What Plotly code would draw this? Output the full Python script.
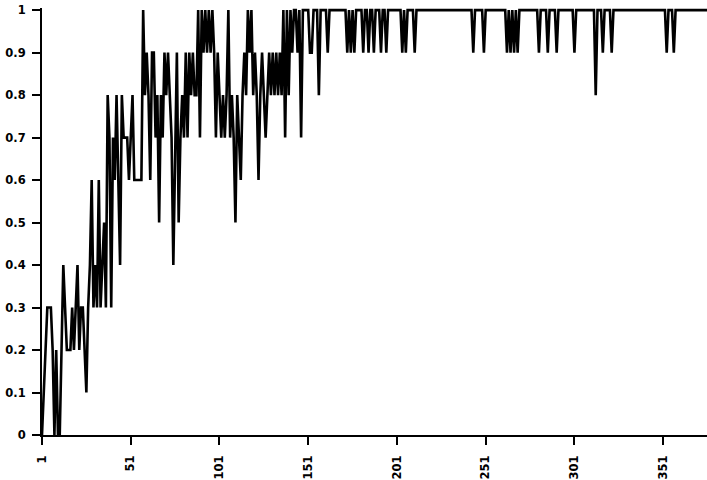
import plotly.graph_objects as go

# Proportion per trial (trials 1..376)
values = [
    0, 0.1, 0.2, 0.3, 0.3, 0.3, 0.2, 0, 0.2, 0,
    0, 0.2, 0.4, 0.3, 0.2, 0.2, 0.2, 0.3, 0.2, 0.3,
    0.4, 0.2, 0.3, 0.3, 0.2, 0.1, 0.3, 0.4, 0.6, 0.3,
    0.4, 0.3, 0.6, 0.3, 0.4, 0.5, 0.3, 0.8, 0.7, 0.3,
    0.7, 0.6, 0.8, 0.6, 0.4, 0.8, 0.7, 0.7, 0.7, 0.6,
    0.7, 0.8, 0.6, 0.6, 0.6, 0.6, 0.6, 1.0, 0.8, 0.9,
    0.8, 0.6, 0.9, 0.9, 0.7, 0.8, 0.5, 0.8, 0.7, 0.9,
    0.8, 0.9, 0.8, 0.7, 0.4, 0.7, 0.9, 0.5, 0.7, 0.8,
    0.7, 0.9, 0.7, 0.9, 0.8, 0.9, 0.8, 0.8, 1.0, 0.7,
    1.0, 0.9, 1.0, 0.9, 1.0, 0.9, 1.0, 0.9, 0.7, 0.9,
    0.8, 0.7, 0.8, 0.7, 0.8, 1.0, 0.7, 0.8, 0.7, 0.5,
    0.8, 0.7, 0.6, 0.8, 0.9, 0.8, 1.0, 0.9, 1.0, 0.8,
    0.9, 0.8, 0.6, 0.8, 0.9, 0.8, 0.7, 0.8, 0.9, 0.8,
    0.9, 0.8, 0.9, 0.8, 0.9, 0.8, 1.0, 0.7, 1.0, 0.8,
    1.0, 0.9, 1.0, 1.0, 0.9, 1.0, 0.7, 1.0, 1.0, 1.0,
    1.0, 0.9, 0.9, 1.0, 1.0, 1.0, 0.8, 1.0, 1.0, 1.0,
    1.0, 0.9, 1.0, 1.0, 1.0, 1.0, 1.0, 1.0, 1.0, 1.0,
    1.0, 1.0, 0.9, 1.0, 0.9, 1.0, 0.9, 1.0, 1.0, 1.0,
    1.0, 0.9, 1.0, 1.0, 0.9, 1.0, 1.0, 0.9, 1.0, 1.0,
    1.0, 0.9, 1.0, 1.0, 0.9, 1.0, 1.0, 1.0, 1.0, 1.0,
    1.0, 1.0, 1.0, 0.9, 1.0, 0.9, 1.0, 1.0, 1.0, 1.0,
    0.9, 1.0, 1.0, 1.0, 1.0, 1.0, 1.0, 1.0, 1.0, 1.0,
    1.0, 1.0, 1.0, 1.0, 1.0, 1.0, 1.0, 1.0, 1.0, 1.0,
    1.0, 1.0, 1.0, 1.0, 1.0, 1.0, 1.0, 1.0, 1.0, 1.0,
    1.0, 1.0, 1.0, 0.9, 1.0, 1.0, 1.0, 1.0, 1.0, 0.9,
    1.0, 1.0, 1.0, 1.0, 1.0, 1.0, 1.0, 1.0, 1.0, 1.0,
    1.0, 1.0, 0.9, 1.0, 0.9, 1.0, 0.9, 1.0, 0.9, 1.0,
    1.0, 1.0, 1.0, 1.0, 1.0, 1.0, 1.0, 1.0, 1.0, 1.0,
    0.9, 1.0, 1.0, 1.0, 1.0, 0.9, 1.0, 1.0, 1.0, 1.0,
    0.9, 1.0, 1.0, 1.0, 1.0, 1.0, 1.0, 1.0, 1.0, 1.0,
    0.9, 1.0, 1.0, 1.0, 1.0, 1.0, 1.0, 1.0, 1.0, 1.0,
    1.0, 1.0, 0.8, 1.0, 1.0, 1.0, 0.9, 1.0, 1.0, 1.0,
    1.0, 0.9, 1.0, 1.0, 1.0, 1.0, 1.0, 1.0, 1.0, 1.0,
    1.0, 1.0, 1.0, 1.0, 1.0, 1.0, 1.0, 1.0, 1.0, 1.0,
    1.0, 1.0, 1.0, 1.0, 1.0, 1.0, 1.0, 1.0, 1.0, 1.0,
    1.0, 1.0, 0.9, 1.0, 1.0, 1.0, 0.9, 1.0, 1.0, 1.0,
    1.0, 1.0, 1.0, 1.0, 1.0, 1.0, 1.0, 1.0, 1.0, 1.0,
    1.0, 1.0, 1.0, 1.0, 1.0, 1.0,
]
trials = list(range(1, len(values) + 1))

x_ticks = [1, 51, 101, 151, 201, 251, 301, 351]
y_ticks = [0, 0.1, 0.2, 0.3, 0.4, 0.5, 0.6, 0.7, 0.8, 0.9, 1]
y_labels = ["0", "0.1", "0.2", "0.3", "0.4", "0.5", "0.6", "0.7", "0.8", "0.9", "1"]

fig = go.Figure(
    go.Scatter(
        x=trials,
        y=values,
        mode="lines",
        line=dict(color="black", width=2.6),
        hoverinfo="skip",
    )
)

tick_font = dict(family="DejaVu Sans", size=11.5, color="black", weight="bold")

fig.update_layout(
    width=707,
    height=480,
    margin=dict(l=42, r=0, t=8, b=45),
    paper_bgcolor="white",
    plot_bgcolor="white",
    showlegend=False,
    xaxis=dict(
        range=[1, 375.7],
        tickmode="array",
        tickvals=x_ticks,
        ticktext=[str(v) for v in x_ticks],
        tickangle=-90,
        ticks="outside",
        ticklen=8,
        tickwidth=2,
        tickcolor="black",
        tickfont=tick_font,
        ticklabelstandoff=6,
        showline=True,
        linecolor="black",
        linewidth=2,
        showgrid=False,
        zeroline=False,
    ),
    yaxis=dict(
        range=[0, 1.005],
        tickmode="array",
        tickvals=y_ticks,
        ticktext=y_labels,
        ticks="outside",
        ticklen=8,
        tickwidth=2,
        tickcolor="black",
        tickfont=tick_font,
        ticklabelstandoff=4,
        showline=True,
        linecolor="black",
        linewidth=2,
        showgrid=False,
        zeroline=False,
    ),
)

fig.write_html("out.html")
